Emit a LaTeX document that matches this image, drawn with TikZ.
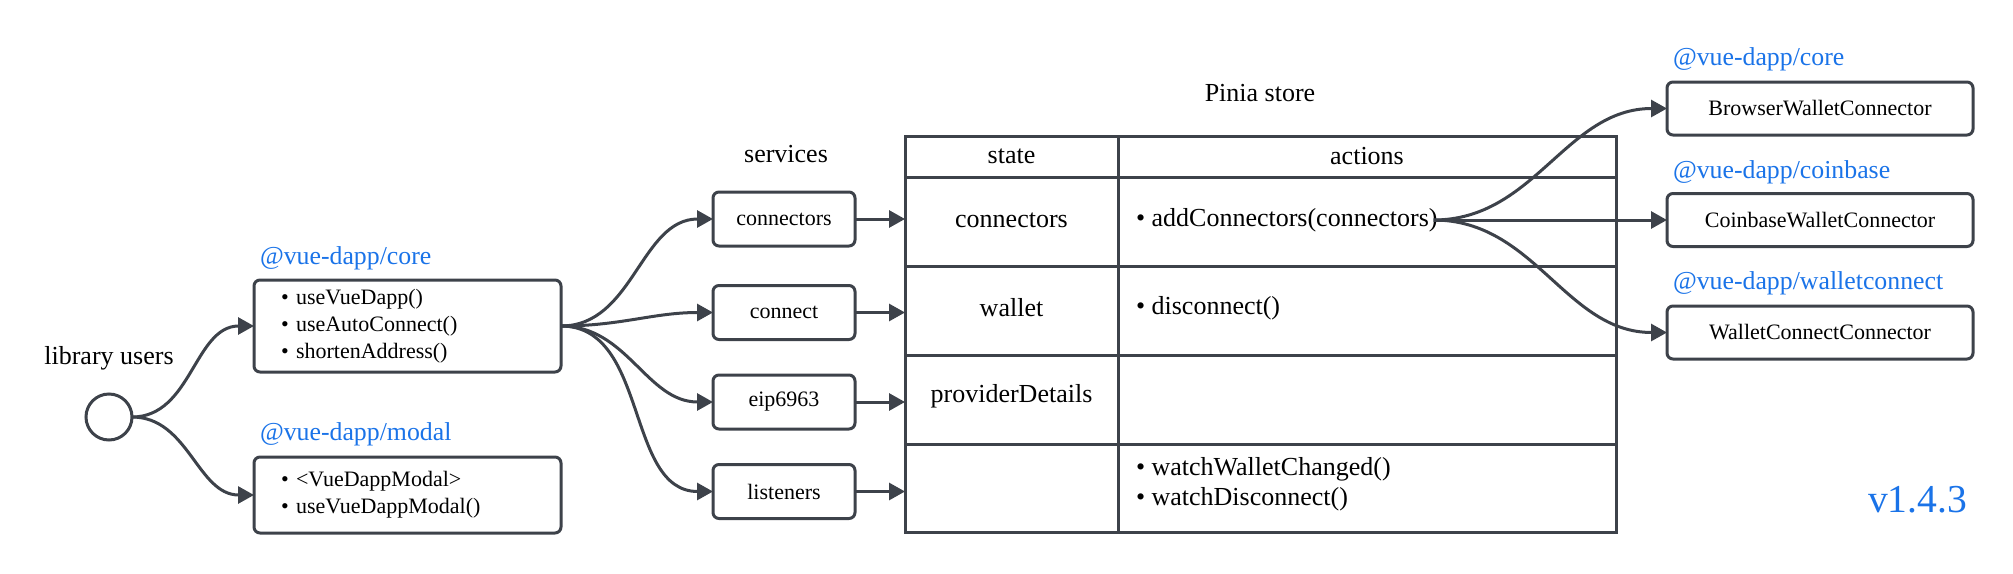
\documentclass[tikz,border=0pt]{standalone}
\usepackage{fontspec}
\setmainfont{Liberation Serif}
\usetikzlibrary{arrows.meta}
\definecolor{ln}{RGB}{61,66,74}
\definecolor{vblue}{RGB}{26,115,232}
\begin{document}
\begin{tikzpicture}[x=1pt,y=-1pt,
  every node/.style={inner sep=0pt, outer sep=0pt},
  conn/.style={draw=ln, line width=3pt, -{Triangle[length=16pt,width=17pt]}},
  box/.style={draw=ln, line width=3pt, rounded corners=6pt, fill=white},
  boxtxt/.style={font=\fontsize{22}{27}\selectfont},
  lbl/.style={font=\fontsize{26}{30}\selectfont},
  pkg/.style={font=\fontsize{25.8}{30}\selectfont, text=vblue, anchor=west},
  grid/.style={draw=ln, line width=3pt},
]
\useasboundingbox (0,0) rectangle (2013,573);

% library users
\node[lbl] (lu) at (109,358) {library users};
\node[draw=ln, line width=3pt, circle, minimum size=46pt] (u) at (109,417) {};

% packages
\node[pkg] (corelbl) at (260,258) {@vue-dapp/core};
\node[box, minimum width=307pt, minimum height=92pt, align=left, text width=253pt, inner xsep=27pt, boxtxt] (core) at (407.5,326)
  {\textbullet\ useVueDapp()\\ \textbullet\ useAutoConnect()\\ \textbullet\ shortenAddress()};
\node[pkg] (modallbl) at (260,434) {@vue-dapp/modal};
\node[box, minimum width=307pt, minimum height=76pt, align=left, text width=253pt, inner xsep=27pt, boxtxt] (modal) at (407.5,495)
  {\textbullet\ <VueDappModal>\\ \textbullet\ useVueDappModal()};

\draw[conn] (u.east) to[out=0,in=180] (core.west);
\draw[conn] (u.east) to[out=0,in=180] (modal.west);

% services
\node[lbl] (svct) at (786,154) {services};
\node[box, minimum width=142pt, minimum height=54pt, boxtxt] (s1) at (784,219) {connectors};
\node[box, minimum width=142pt, minimum height=54pt, boxtxt] (s2) at (784,312.5) {connect};
\node[box, minimum width=142pt, minimum height=54pt, boxtxt] (s3) at (784,402) {eip6963};
\node[box, minimum width=142pt, minimum height=54pt, boxtxt] (s4) at (784,491.5) {listeners};
\foreach \s in {s1,s2,s3,s4} \draw[conn] (core.east) to[out=0,in=180] (\s.west);

% Pinia store table
\node[lbl] (pinia) at (1260,93) {Pinia store};
\node[grid, minimum width=711pt, minimum height=396pt] (store) at (1260.5,334) {};
\draw[grid] (1118,136) -- (1118,532);
\foreach \yy in {177,266,355,444} \draw[grid] (905,\yy) -- (1616,\yy);
\node[lbl] (state) at (1011.5,156) {state};
\node[lbl] (actions) at (1367,156) {actions};
\node[lbl] (stc) at (1011.5,220) {connectors};
\node[lbl] (stw) at (1011.5,308) {wallet};
\node[lbl] (stp) at (1011.5,396) {providerDetails};
\node[lbl, anchor=west] (addc) at (1136,220) {\textbullet\ addConnectors(connectors)};
\node[lbl, anchor=west] (disc) at (1136,308) {\textbullet\ disconnect()};
\node[lbl, anchor=west, align=left] (watch) at (1136,484) {\textbullet\ watchWalletChanged()\\ \textbullet\ watchDisconnect()};
\foreach \s in {s1,s2,s3,s4} \draw[conn] (\s.east) -- (\s.east -| store.west);

% connectors
\node[pkg] (bwlbl) at (1673,59) {@vue-dapp/core};
\node[box, minimum width=306pt, minimum height=53pt, boxtxt] (bw) at (1820,108.5) {BrowserWalletConnector};
\node[pkg] (cwlbl) at (1673,172) {@vue-dapp/coinbase};
\node[box, minimum width=306pt, minimum height=53pt, boxtxt] (cw) at (1820,220) {CoinbaseWalletConnector};
\node[pkg] (wclbl) at (1673,283) {@vue-dapp/walletconnect};
\node[box, minimum width=306pt, minimum height=53pt, boxtxt] (wc) at (1820,332.5) {WalletConnectConnector};
\coordinate (ac) at ([xshift=-4pt]addc.east);
\draw[conn] (ac) to[out=0,in=180] (bw.west);
\draw[conn] (ac) -- (cw.west);
\draw[conn] (ac) to[out=0,in=180] (wc.west);

\node[font=\fontsize{39.6}{44}\selectfont, text=vblue] (ver) at (1917.5,500) {v1.4.3};
\end{tikzpicture}
\end{document}
